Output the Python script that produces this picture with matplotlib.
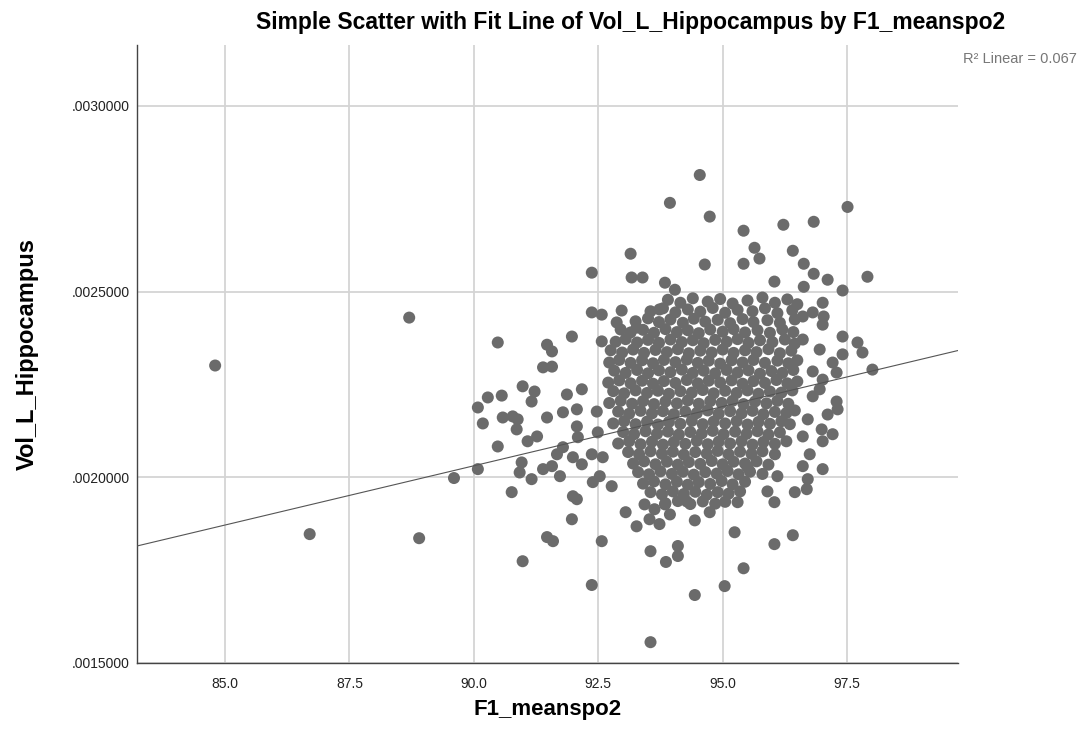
import numpy as np
import matplotlib.pyplot as plt

plt.rcParams['font.family'] = ['Liberation Sans', 'DejaVu Sans']

# (F1_meanspo2, Vol_L_Hippocampus * 1e6)
far_points = [
    (84.8, 2301), (86.7, 1847), (88.7, 2430), (88.9, 1836), (89.6, 1998),
]

top_points = [
    (94.54, 2814), (93.94, 2739), (94.74, 2702), (95.42, 2664), (96.22, 2680),
    (95.64, 2618), (95.74, 2589), (96.41, 2610), (94.64, 2573), (95.42, 2575),
    (96.04, 2527), (93.15, 2602), (92.37, 2551), (93.17, 2538), (93.39, 2538),
    (93.84, 2524), (94.04, 2505), (92.37, 2444), (92.57, 2438), (92.97, 2449),
    (93.73, 2452), (92.87, 2417), (93.27, 2403), (97.51, 2728), (96.83, 2688),
    (97.91, 2540), (96.63, 2575), (96.83, 2548), (97.11, 2532), (97.41, 2503),
    (96.63, 2513), (97.01, 2470), (96.61, 2433), (96.81, 2444), (97.03, 2433),
    (97.01, 2411),
]

left_points = [
    (90.48, 2363), (91.47, 2357), (91.57, 2339), (91.39, 2296), (91.57, 2298),
    (90.98, 2245), (91.22, 2231), (91.16, 2204), (90.28, 2215), (90.56, 2220),
    (90.08, 2188), (90.18, 2145), (90.58, 2161), (90.78, 2164), (90.88, 2156),
    (90.86, 2129), (91.47, 2161), (91.27, 2110), (91.08, 2097), (90.48, 2083),
    (90.08, 2022), (90.96, 2040), (90.92, 2013), (91.16, 1995), (91.39, 2022),
    (91.57, 2030), (91.67, 2062), (90.76, 1960),
    (91.97, 2379), (92.57, 2366), (91.87, 2223), (92.17, 2237), (92.07, 2183),
    (91.79, 2175), (92.47, 2177), (92.07, 2137), (92.09, 2108), (92.49, 2121),
    (91.79, 2081), (91.99, 2054), (92.17, 2035), (92.37, 2062), (92.59, 2054),
    (92.53, 2003), (92.77, 1976), (92.39, 1987), (91.99, 1949), (91.73, 2003),
]

bottom_points = [
    (91.47, 1839), (91.59, 1828), (90.98, 1774), (92.07, 1941), (91.97, 1887),
    (93.05, 1906), (92.57, 1828), (92.37, 1710), (93.55, 1556), (93.55, 1801),
    (93.86, 1772), (93.27, 1868), (94.10, 1815), (94.10, 1788), (94.44, 1884),
    (94.74, 1906), (95.24, 1852), (95.42, 1755), (95.04, 1707), (94.44, 1683),
    (96.04, 1820), (96.41, 1844), (96.04, 1933), (95.30, 1933), (94.28, 1935),
    (95.50, 2027), (96.10, 2003), (95.90, 1962), (96.45, 1960),
    (93.43, 1927), (93.63, 1914), (93.84, 1927), (93.53, 1887), (93.73, 1874),
    (93.94, 1900),
]

right_points = [
    (97.41, 2379), (97.71, 2363), (97.81, 2336), (97.41, 2331), (98.01, 2290),
    (97.21, 2309), (97.29, 2282), (96.81, 2285), (97.01, 2263), (96.81, 2218),
    (97.29, 2204), (97.31, 2183), (96.95, 2237), (97.11, 2169), (96.71, 2156),
    (96.99, 2129), (97.21, 2116), (97.01, 2097), (96.61, 2110), (96.75, 2062),
    (97.01, 2022), (96.61, 2030), (96.71, 1995), (96.69, 1968), (96.61, 2371),
    (96.95, 2344),
]

core_points = [
    (93.9, 2478), (94.15, 2470), (94.4, 2482), (94.7, 2473), (94.95, 2480), (95.2, 2468),
    (95.5, 2476), (95.8, 2484), (96.05, 2470), (96.3, 2479), (96.5, 2466),
    (93.55, 2447), (93.8, 2455), (94.05, 2444), (94.3, 2452), (94.55, 2446), (94.8, 2456),
    (95.05, 2443), (95.3, 2451), (95.6, 2447), (95.85, 2455), (96.1, 2442), (96.4, 2450),
    (93.25, 2420), (93.5, 2428), (93.72, 2418), (93.95, 2425), (94.2, 2416), (94.42, 2427),
    (94.65, 2419), (94.9, 2424), (95.15, 2415), (95.4, 2426), (95.62, 2418), (95.9, 2423),
    (96.15, 2416), (96.45, 2425),
    (92.95, 2398), (93.15, 2390), (93.4, 2397), (93.62, 2389), (93.85, 2399), (94.08, 2391),
    (94.3, 2396), (94.52, 2388), (94.75, 2398), (95.0, 2392), (95.22, 2399), (95.45, 2390),
    (95.7, 2396), (95.95, 2389), (96.2, 2398), (96.42, 2391),
    (92.85, 2365), (93.05, 2372), (93.28, 2363), (93.5, 2370), (93.72, 2362), (93.95, 2371),
    (94.18, 2364), (94.4, 2369), (94.62, 2361), (94.85, 2370), (95.08, 2365), (95.3, 2372),
    (95.52, 2362), (95.75, 2369), (96.0, 2364), (96.25, 2371), (96.45, 2360),
    (92.75, 2342), (92.98, 2336), (93.2, 2344), (93.42, 2335), (93.65, 2343), (93.88, 2337),
    (94.1, 2345), (94.32, 2334), (94.55, 2341), (94.78, 2336), (95.0, 2344), (95.22, 2335),
    (95.45, 2342), (95.68, 2337), (95.92, 2345), (96.15, 2334), (96.38, 2341),
    (92.72, 2309), (92.92, 2316), (93.15, 2308), (93.38, 2315), (93.6, 2307), (93.82, 2316),
    (94.05, 2310), (94.28, 2317), (94.5, 2308), (94.72, 2314), (94.95, 2306), (95.18, 2315),
    (95.4, 2309), (95.62, 2316), (95.85, 2308), (96.1, 2314), (96.32, 2307), (96.5, 2315),
    (92.82, 2287), (93.05, 2281), (93.28, 2289), (93.5, 2280), (93.72, 2288), (93.95, 2283),
    (94.18, 2290), (94.4, 2281), (94.62, 2287), (94.85, 2280), (95.08, 2289), (95.3, 2282),
    (95.52, 2288), (95.75, 2279), (95.98, 2286), (96.2, 2281), (96.42, 2289),
    (92.7, 2255), (92.92, 2261), (93.15, 2253), (93.38, 2260), (93.6, 2252), (93.82, 2259),
    (94.05, 2254), (94.28, 2262), (94.5, 2253), (94.72, 2260), (94.95, 2255), (95.18, 2261),
    (95.4, 2252), (95.62, 2259), (95.85, 2254), (96.08, 2262), (96.3, 2253), (96.5, 2258),
    (92.8, 2232), (93.02, 2226), (93.25, 2234), (93.48, 2227), (93.7, 2233), (93.92, 2225),
    (94.15, 2232), (94.38, 2228), (94.6, 2235), (94.82, 2226), (95.05, 2233), (95.28, 2227),
    (95.5, 2234), (95.72, 2225), (95.95, 2231), (96.18, 2228), (96.4, 2234),
    (92.72, 2200), (92.95, 2206), (93.18, 2198), (93.4, 2205), (93.62, 2197), (93.85, 2204),
    (94.08, 2199), (94.3, 2207), (94.52, 2198), (94.75, 2205), (94.98, 2200), (95.2, 2206),
    (95.42, 2197), (95.65, 2204), (95.88, 2199), (96.1, 2206), (96.32, 2198),
    (92.9, 2177), (93.12, 2171), (93.35, 2179), (93.58, 2172), (93.8, 2178), (94.02, 2170),
    (94.25, 2177), (94.48, 2173), (94.7, 2180), (94.92, 2171), (95.15, 2178), (95.38, 2172),
    (95.6, 2179), (95.82, 2170), (96.05, 2176), (96.28, 2173), (96.45, 2180),
    (92.8, 2145), (93.02, 2151), (93.25, 2143), (93.48, 2150), (93.7, 2142), (93.92, 2149),
    (94.15, 2144), (94.38, 2152), (94.6, 2143), (94.82, 2150), (95.05, 2145), (95.28, 2151),
    (95.5, 2142), (95.72, 2149), (95.95, 2144), (96.18, 2151), (96.35, 2143),
    (93.0, 2122), (93.22, 2116), (93.45, 2124), (93.68, 2117), (93.9, 2123), (94.12, 2115),
    (94.35, 2122), (94.58, 2118), (94.8, 2125), (95.02, 2116), (95.25, 2123), (95.48, 2117),
    (95.7, 2124), (95.92, 2115), (96.15, 2121),
    (92.9, 2091), (93.12, 2097), (93.35, 2089), (93.58, 2096), (93.8, 2088), (94.02, 2095),
    (94.25, 2090), (94.48, 2098), (94.7, 2089), (94.92, 2096), (95.15, 2091), (95.38, 2097),
    (95.6, 2088), (95.82, 2095), (96.05, 2090), (96.28, 2097),
    (93.1, 2068), (93.32, 2062), (93.55, 2070), (93.78, 2063), (94.0, 2069), (94.22, 2061),
    (94.45, 2068), (94.68, 2064), (94.9, 2071), (95.12, 2062), (95.35, 2069), (95.58, 2063),
    (95.8, 2070), (96.05, 2062),
    (93.2, 2037), (93.42, 2043), (93.65, 2035), (93.88, 2042), (94.1, 2034), (94.32, 2041),
    (94.55, 2036), (94.78, 2044), (95.0, 2035), (95.22, 2042), (95.45, 2037), (95.68, 2043),
    (95.92, 2034),
    (93.3, 2014), (93.52, 2008), (93.75, 2016), (93.98, 2009), (94.2, 2015), (94.42, 2007),
    (94.65, 2014), (94.88, 2010), (95.1, 2017), (95.32, 2008), (95.55, 2015), (95.8, 2009),
    (93.4, 1983), (93.62, 1989), (93.85, 1981), (94.08, 1988), (94.3, 1980), (94.52, 1987),
    (94.75, 1982), (94.98, 1990), (95.2, 1981), (95.45, 1988),
    (93.55, 1960), (93.78, 1954), (94.0, 1962), (94.22, 1955), (94.45, 1961), (94.68, 1953),
    (94.9, 1960), (95.12, 1956), (95.35, 1962),
    (93.85, 1930), (94.1, 1936), (94.35, 1928), (94.6, 1935), (94.85, 1929), (95.05, 1934),
]

# fit line as drawn in the picture
fit_x0, fit_y0 = 90.0, 0.002031
fit_slope = 3.19e-5
r2_text = "R² Linear = 0.067"

x_ticks = [85.0, 87.5, 90.0, 92.5, 95.0, 97.5]
y_ticks = [0.0015, 0.0020, 0.0025, 0.0030]

pts = far_points + top_points + left_points + bottom_points + right_points + core_points
spo2 = np.array([p[0] for p in pts])
vol = np.array([p[1] for p in pts]) * 1e-6

fig = plt.figure(figsize=(10.91, 7.43), dpi=100)
ax = fig.add_axes([0.1256, 0.1077, 0.7525, 0.8317])

ax.scatter(spo2, vol, s=75, color='#6b6b6b', edgecolors='none', zorder=3)
ax.axline((fit_x0, fit_y0), slope=fit_slope, color='#555555', lw=0.8, zorder=4)

ax.set_xlim(83.23, 99.73)
ax.set_ylim(0.0015, 0.003164)
ax.set_xticks(x_ticks)
ax.set_xticklabels([f"{t:.1f}" for t in x_ticks])
ax.set_yticks(y_ticks)
ax.set_yticklabels([f"{t:.7f}"[1:] for t in y_ticks])

ax.grid(True, color='#d4d4d4', lw=1.3, zorder=0)
ax.set_axisbelow(True)
for side in ['top', 'right']:
    ax.spines[side].set_visible(False)
for side in ['left', 'bottom']:
    ax.spines[side].set_color('#444444')
    ax.spines[side].set_linewidth(1.0)
ax.tick_params(axis='both', length=0, labelsize=10, colors='#222222')
ax.tick_params(axis='x', pad=10)
ax.tick_params(axis='y', pad=5)

ax.set_xlabel("F1_meanspo2", fontsize=16, fontweight='bold', va='center')
ax.xaxis.set_label_coords(0.5, -0.075)
ax.set_ylabel("Vol_L_Hippocampus", fontsize=17, fontweight='bold', va='center')
ax.yaxis.set_label_coords(-0.133, 0.5)

fig.text(0.578, 0.970, "Simple Scatter with Fit Line of Vol_L_Hippocampus by F1_meanspo2",
         ha='center', va='center', fontsize=16.5, fontweight='bold')
fig.text(0.883, 0.921, r2_text, ha='left', va='center', fontsize=10.5, color='#777777')

fig.savefig("out.png", dpi=100)
